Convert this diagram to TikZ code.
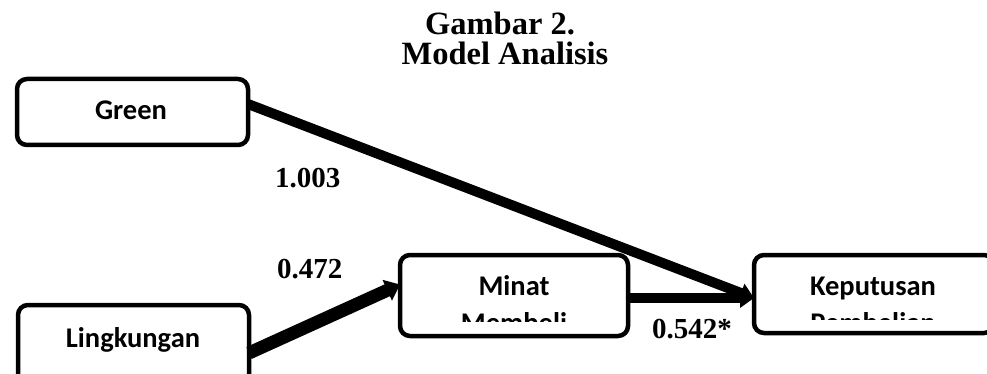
\documentclass[tikz,border=0pt]{standalone}
\usepackage{fontspec}
\setmainfont{Liberation Serif}
\newfontfamily\boxfont{Carlito}
\usetikzlibrary{arrows.meta,positioning}

\begin{document}
\begin{tikzpicture}[x=1pt,y=-1pt,
    box/.style={draw,line width=4.5pt,rounded corners=10pt,inner sep=0pt,outer sep=0pt,minimum width=231pt,minimum height=66pt},
    lbl/.style={font=\boxfont\bfseries\fontsize{28.5}{34}\selectfont,inner sep=0pt,anchor=base},
    coef/.style={font=\bfseries\fontsize{29}{34}\selectfont,inner sep=0pt,anchor=base west},
    path/.style={line width=#1,-{Triangle[width=#1+9pt,length=14pt]}}]
\useasboundingbox (0,0) rectangle (987,374);

% judul
\node[font=\bfseries\fontsize{32.5}{38}\selectfont,inner sep=0pt,anchor=base] (judul1) at (500,35) {Gambar 2.};
\node[font=\bfseries\fontsize{32.5}{38}\selectfont,inner sep=0pt,anchor=base] (judul2) at (505,65) {Model Analisis};

% kotak variabel
\node[box] (green) at (132.5,112) {};
\node[lbl] (greenT) at (131,120) {Green};
\node[box,minimum height=80pt] (ling) at (133.5,345) {};
\node[lbl] (lingT) at (133,347) {Lingkungan};
\node[box,minimum width=228pt,minimum height=81pt] (minat) at (514,295.5) {};
\node[box,minimum width=240pt,minimum height=78pt] (kep) at (874,294) {};

\begin{scope}
  \clip (400,255) rectangle (628,321);
  \node[lbl] (minatT) at (514,295) {Minat};
  \node[lbl] (minatU) at (514,332) {Membeli};
\end{scope}
\begin{scope}
  \clip (754,255) rectangle (987,319);
  \node[lbl] (kepT) at (873,295) {Keputusan};
  \node[lbl] (kepU) at (873,332) {Pembelian};
\end{scope}

% jalur
\draw[path=10pt] ([yshift=8pt]green.east) -- ([yshift=-4pt]kep.west);
\draw[path=13pt] ([yshift=-8pt]ling.east) -- ([yshift=11pt]minat.west);
\draw[path=10pt] ([yshift=-2.5pt]minat.east) -- ([yshift=-4pt]kep.west);

% koefisien
\node[coef] (k1) at (275,187) {1.003};
\node[coef] (k2) at (277,278) {0.472};
\node[coef] (k3) at (652,338) {0.542*};
\end{tikzpicture}
\end{document}
